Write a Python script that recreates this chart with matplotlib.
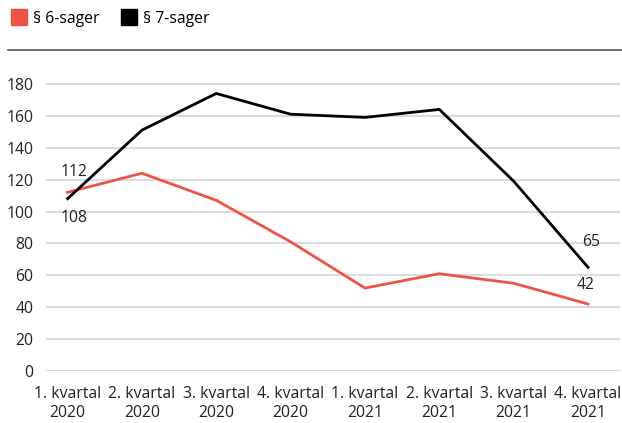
import matplotlib
matplotlib.use("Agg")
import matplotlib.pyplot as plt
from matplotlib.lines import Line2D

_RED = "#ef5343"
_BLACK = "#000000"
_GRID = "#dcdcdc"
_FS = 11.3

quarters = ["1. kvartal\n2020", "2. kvartal\n2020", "3. kvartal\n2020", "4. kvartal\n2020",
            "1. kvartal\n2021", "2. kvartal\n2021", "3. kvartal\n2021", "4. kvartal\n2021"]
sager_6 = [112, 124, 107, 81, 52, 61, 55, 42]
sager_7 = [108, 151, 174, 161, 159, 164, 119, 65]
yticks = [0, 20, 40, 60, 80, 100, 120, 140, 160, 180]

plt.rcParams["font.family"] = ["Open Sans", "DejaVu Sans"]

fig = plt.figure(figsize=(6.22, 4.23), dpi=100)
ax = fig.add_axes([46 / 622, 1 - 371 / 423, (620 - 46) / 622, (371 - 52) / 423])

x = list(range(len(quarters)))
ax.plot(x, sager_6, color=_RED, linewidth=2, zorder=3)
ax.plot(x, sager_7, color=_BLACK, linewidth=2, zorder=3)

ax.set_xlim(-0.29, 7.43)
ax.set_ylim(0, 200)
ax.set_yticks(yticks)
ax.set_xticks(x)
ax.set_xticklabels(quarters, fontsize=_FS, color="#222222", linespacing=1.25)
ax.tick_params(axis="y", labelsize=_FS, labelcolor="#222222", length=0, pad=9)
ax.tick_params(axis="x", length=0, pad=11)
ax.grid(axis="y", color=_GRID, linewidth=1.5, zorder=0)
ax.set_axisbelow(True)
for spine in ax.spines.values():
    spine.set_visible(False)
ax.axhline(0, color="#cccccc", linewidth=1, zorder=1)

# data labels at the ends
lab_kw = dict(fontsize=_FS, color="#222222", ha="center", va="center")
ax.annotate(str(sager_6[0]), (x[0], sager_6[0]), xytext=(5, 15), textcoords="offset points", **lab_kw)
ax.annotate(str(sager_7[0]), (x[0], sager_7[0]), xytext=(5, -14), textcoords="offset points", **lab_kw)
ax.annotate(str(sager_7[-1]), (x[-1], sager_7[-1]), xytext=(2, 18), textcoords="offset points", **lab_kw)
ax.annotate(str(sager_6[-1]), (x[-1], sager_6[-1]), xytext=(-2, 14), textcoords="offset points", **lab_kw)

# separator line under legend
fig.add_artist(Line2D([8 / 622, 1.0], [1 - 50 / 423, 1 - 50 / 423], color="#555555", linewidth=1.2))

handles = [Line2D([], [], marker="s", linestyle="none", markersize=12, color=_RED),
           Line2D([], [], marker="s", linestyle="none", markersize=12, color=_BLACK)]
fig.legend(handles, ["§ 6-sager", "§ 7-sager"], loc="upper left", bbox_to_anchor=(0.0, 1.0),
           ncol=2, frameon=False, fontsize=_FS, handletextpad=0.4, columnspacing=1.4,
           borderaxespad=0.3, handlelength=1.0)

fig.savefig("out.png", dpi=100)
